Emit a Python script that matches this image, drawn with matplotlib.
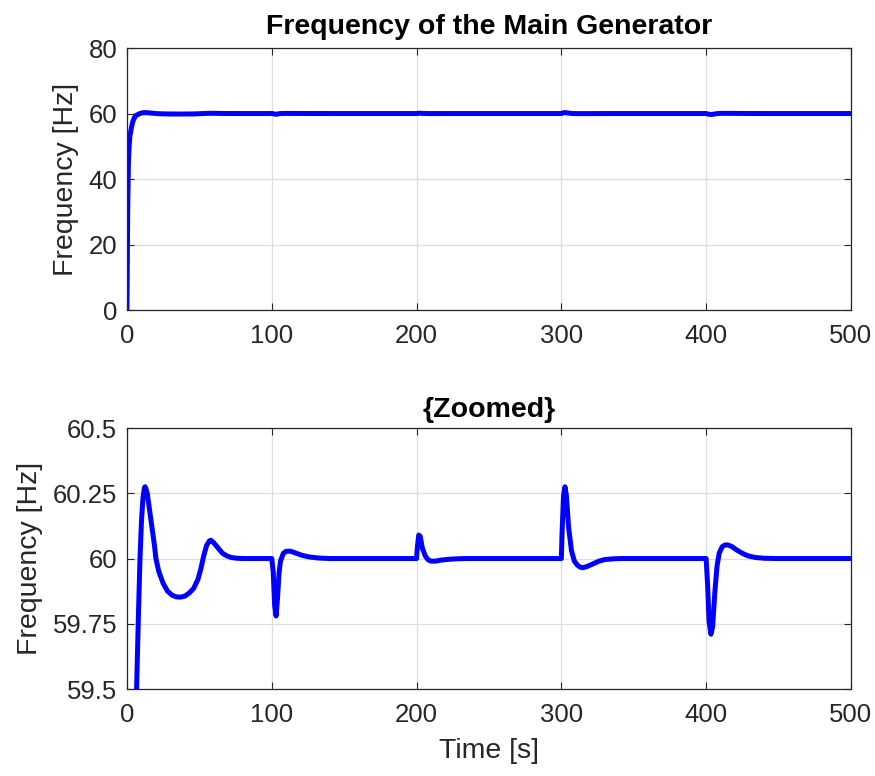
import numpy as np
import matplotlib.pyplot as plt
from matplotlib.ticker import FuncFormatter

# frequency trace (time [s], frequency [Hz])
time_s = [0, 0.5, 1, 1.5, 2, 3, 4, 5, 6, 7, 8, 9, 10, 11, 12, 12.5, 13, 14, 15,
          16.5, 17, 19, 20, 22, 25, 28, 31, 34, 37, 40, 43, 46, 49, 51, 53, 55,
          57, 58, 60, 63, 66, 69, 72, 76, 80,
          100, 101, 102, 103, 104, 105, 106, 108, 110, 113, 117, 121, 126, 132, 140,
          200, 200.5, 201.5, 202.5, 204, 206, 208, 210, 213, 217, 222, 228, 235,
          300, 300.5, 301.5, 302.5, 303.5, 305, 307, 309, 311, 313, 315, 318, 322,
          326, 330, 336, 342,
          400, 401, 402, 403.3, 404.5, 406, 407.5, 409, 411, 413, 415, 418, 421,
          425, 429, 434, 440, 448, 500]
freq_hz = [0, 30, 45, 50, 53, 55.5, 57.5, 58.6, 59.35, 59.58, 59.8, 60.0, 60.14,
           60.23, 60.27, 60.275, 60.27, 60.25, 60.21,
           60.15, 60.13, 60.05, 60.0, 59.95, 59.905, 59.875, 59.86, 59.853, 59.852,
           59.856, 59.868, 59.885, 59.92, 59.96, 60.01, 60.05,
           60.068, 60.07, 60.06, 60.04, 60.02, 60.01, 60.004, 60.001, 60.0,
           60.0, 59.95, 59.82, 59.78, 59.85, 59.94, 59.99, 60.02, 60.028, 60.028,
           60.02, 60.012, 60.006, 60.002, 60.0,
           60.0, 60.04, 60.09, 60.085, 60.04, 60.01, 59.995, 59.99, 59.99, 59.994,
           59.997, 59.999, 60.0,
           60.0, 60.1, 60.24, 60.275, 60.24, 60.12, 60.03, 59.99, 59.975, 59.967,
           59.965, 59.97, 59.98,
           59.99, 59.996, 59.999, 60.0,
           60.0, 59.9, 59.76, 59.71, 59.74, 59.87, 59.97, 60.02, 60.045, 60.052,
           60.052, 60.045, 60.033,
           60.02, 60.01, 60.004, 60.001, 60.0, 60.0]

x_ticks = [0, 100, 200, 300, 400, 500]
top_yticks = [0, 20, 40, 60, 80]
zoom_yticks = [59.5, 59.75, 60, 60.25, 60.5]

plt.rcParams['font.family'] = ['Liberation Sans', 'DejaVu Sans']
dark = (0.15, 0.15, 0.15)

fig = plt.figure(figsize=(8.75, 7.76), dpi=100)
ax1 = fig.add_axes([0.1451, 0.6005, 0.8274, 0.3376])
ax2 = fig.add_axes([0.1451, 0.1121, 0.8274, 0.3363])

fmt = FuncFormatter(lambda v, p: '%g' % v)

for ax in (ax1, ax2):
    ax.plot(time_s, freq_hz, color='#0000ff', linewidth=3.6, solid_joinstyle='round')
    ax.set_xlim(0, 500)
    ax.set_xticks(x_ticks)
    ax.grid(True, color=(0.87, 0.87, 0.87), linewidth=0.9)
    ax.set_axisbelow(True)
    ax.tick_params(direction='in', top=True, right=True, labelsize=18.5,
                   colors=dark, length=5, width=0.8)
    ax.tick_params(axis='x', pad=10)
    ax.tick_params(axis='y', pad=7)
    for s in ax.spines.values():
        s.set_color(dark)
        s.set_linewidth(0.9)
    ax.yaxis.set_major_formatter(fmt)
    ax.set_ylabel('Frequency [Hz]', fontsize=20.5, color=dark, labelpad=7)

ax1.set_ylim(0, 80)
ax1.set_yticks(top_yticks)
ax1.set_title('Frequency of the Main Generator', fontsize=20.5, fontweight='bold', pad=10)

ax2.set_ylim(59.5, 60.5)
ax2.set_yticks(zoom_yticks)
ax2.set_title('{Zoomed}', fontsize=20.5, fontweight='bold', pad=8)
ax2.set_xlabel('Time [s]', fontsize=20.5, color=dark, labelpad=8)

fig.savefig('out.png', dpi=100)
